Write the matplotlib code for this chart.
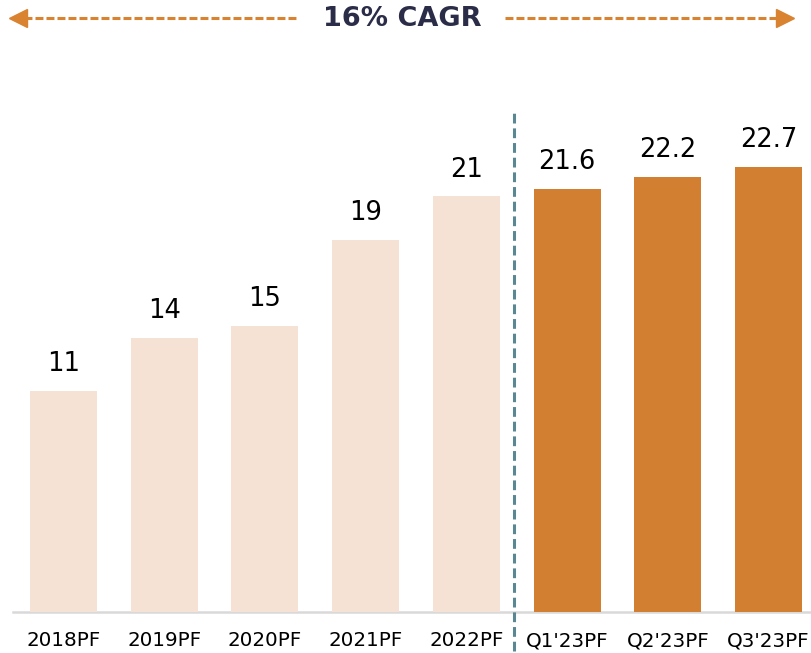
import matplotlib.pyplot as plt
from matplotlib.lines import Line2D

# data
categories = ["2018PF", "2019PF", "2020PF", "2021PF", "2022PF", "Q1'23PF", "Q2'23PF", "Q3'23PF"]
heights = [11.3, 14.0, 14.6, 19.0, 21.2, 21.6, 22.2, 22.7]
labels = ["11", "14", "15", "19", "21", "21.6", "22.2", "22.7"]
is_quarter = [False, False, False, False, False, True, True, True]
title = "16% CAGR"

light = "#f5e2d4"
dark = "#d37f32"
orange = "#d98331"
navy = "#2b2d48"

fig = plt.figure(figsize=(8.11, 6.53), dpi=100)
W, H = 811, 653
bottom_px, top_px = 612, 60
ax = fig.add_axes([0, (H - bottom_px) / H, 1, (bottom_px - top_px) / H])

x = list(range(len(categories)))
colors = [dark if q else light for q in is_quarter]
ax.bar(x, heights, width=0.665, color=colors, zorder=2)

for xi, h, lab in zip(x, heights, labels):
    ax.text(xi, h + 0.7, lab, ha="center", va="bottom", fontsize=18.5,
            color="black", family="DejaVu Sans")

ax.set_xlim(-0.63, 7.42)
ax.set_ylim(0, (bottom_px - top_px) / 19.6)

for s in ax.spines.values():
    s.set_visible(False)
ax.axhline(0, xmin=13 / W, xmax=1, color="#d9d9d9", lw=1.8, zorder=1, clip_on=False)
ax.set_yticks([])
ax.set_xticks(x)
ax.set_xticklabels(categories, fontsize=14.3, family="DejaVu Sans")
ax.tick_params(axis="x", length=0, pad=14)

# divider between yearly and quarterly bars
ax.plot([4.47, 4.47], [-2.0, 25.45], color="#5a8792", lw=2.2,
        dashes=(3.2, 1.6), clip_on=False, zorder=3)

# CAGR header with dashed arrows
ty = 1 - 18 / H
fig.text(402 / W, ty - 1 / H, title, ha="center", va="center", fontsize=19.5,
         fontweight="bold", color=navy)
for x0, x1 in [(24 / W, 298 / W), (505 / W, 778 / W)]:
    fig.add_artist(Line2D([x0, x1], [ty, ty], color=orange, lw=2.2,
                          dashes=(2.6, 1.0), transform=fig.transFigure))
fig.add_artist(Line2D([18 / W], [ty], marker="<", markersize=13, color=orange,
                      ls="none", transform=fig.transFigure))
fig.add_artist(Line2D([785 / W], [ty], marker=">", markersize=13, color=orange,
                      ls="none", transform=fig.transFigure))

fig.savefig("out.png", dpi=100)
